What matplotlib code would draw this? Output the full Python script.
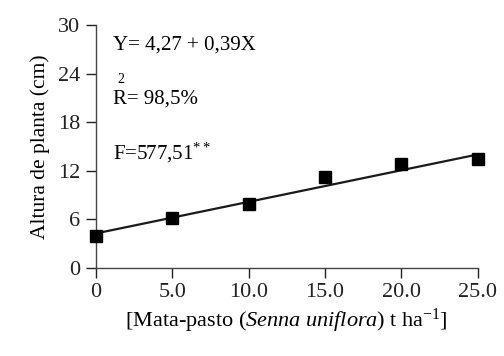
import numpy as np
import matplotlib.pyplot as plt

# Altura de planta vs mata-pasto
x_values = [0, 5, 10, 15, 20, 25]
y_values = [4.0, 6.2, 7.85, 11.25, 12.8, 13.4]
x_labels = ['0', '5.0', '10.0', '15.0', '20.0', '25.0']
y_ticks = [0, 6, 12, 18, 24, 30]
b0, b1 = 4.27, 0.39

plt.rcParams['font.family'] = ['Liberation Serif', 'DejaVu Serif']
plt.rcParams['mathtext.fontset'] = 'custom'
plt.rcParams['mathtext.rm'] = 'Liberation Serif'
plt.rcParams['mathtext.it'] = 'Liberation Serif:italic'

fig = plt.figure(figsize=(5.04, 3.56), dpi=100)
ax = fig.add_axes([0.19, 0.247, 0.758, 0.683])

xfit = np.array([min(x_values), max(x_values)])
ax.plot(xfit, b0 + b1 * xfit, color='#1a1a1a', lw=1.6, zorder=2)
ax.plot(x_values, y_values, ls='none', marker='s', ms=9, color='black', zorder=3)

ax.set_xlim(0, 25)
ax.set_ylim(0, 30)
ax.set_xticks(x_values)
ax.set_xticklabels(x_labels)
ax.set_yticks(y_ticks)
ax.tick_params(direction='out', length=7, width=1, labelsize=16, colors='#222222', pad=4)
for s in ['top', 'right']:
    ax.spines[s].set_visible(False)
for s in ['left', 'bottom']:
    ax.spines[s].set_color('#444444')
    ax.spines[s].set_linewidth(1)
for line in ax.get_lines():
    line.set_clip_on(False)

ax.set_ylabel('Altura de planta (cm)', fontsize=15.5, labelpad=6)
ax.set_xlabel(r'[Mata-pasto ($\mathit{Senna\ uniflora}$) t ha$^{-1}$]', fontsize=16, labelpad=3)

ax.text(1.1, 27.5, 'Y= 4,27 + 0,39X', fontsize=15, va='center')
ax.text(1.1, 20.9, 'R= 98,5%', fontsize=15, va='center')
ax.text(1.4, 23.3, '2', fontsize=10, va='center')
ax.text(1.1, 14.2, r'F=577,51$^{**}$', fontsize=15, va='center')

fig.savefig('out.png', dpi=100)
